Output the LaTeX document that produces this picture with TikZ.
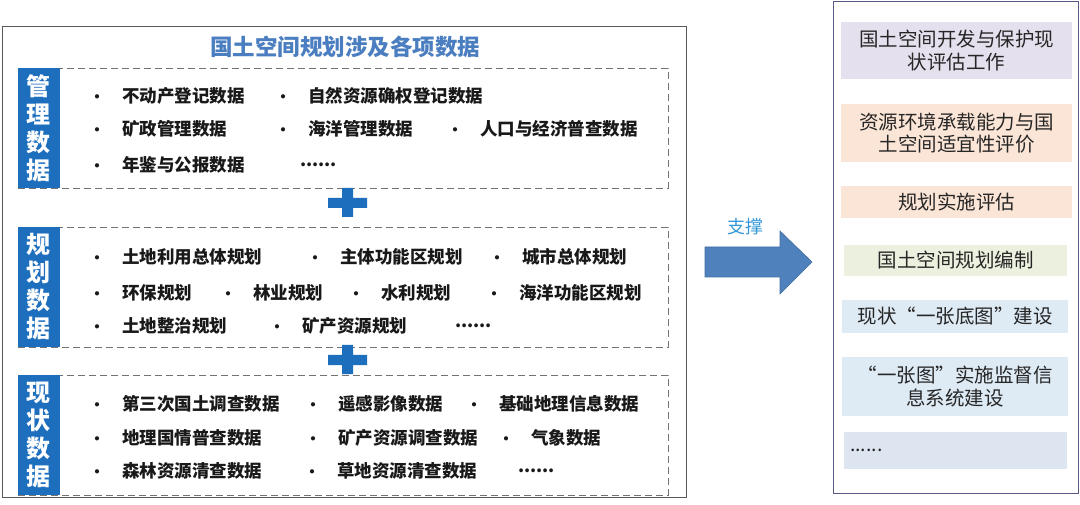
\documentclass[tikz,border=0pt]{standalone}
\usepackage{fontspec}
\newfontfamily\cjk{Noto Sans CJK SC}
\usetikzlibrary{positioning}

\definecolor{tagblue}{RGB}{30,110,190}
\definecolor{titleblue}{RGB}{74,126,192}
\definecolor{arrowblue}{RGB}{79,129,189}
\definecolor{supblue}{RGB}{52,152,215}
\definecolor{lavender}{RGB}{229,224,237}
\definecolor{peach}{RGB}{251,229,214}
\definecolor{paleolive}{RGB}{236,240,222}
\definecolor{paleblue}{RGB}{222,235,245}
\definecolor{palegrey}{RGB}{220,229,240}

\newcommand{\bul}{\makebox[0pt]{\fontsize{15}{15}\selectfont\textbullet}\hspace{25pt}}

\tikzset{frame/.style={draw=black!65,line width=1pt},
  databox/.style={draw=black!55,dashed,dash pattern=on 7pt off 4pt,line width=0.8pt,minimum width=650pt,minimum height=120pt,inner sep=0pt},
  tagbar/.style={fill=tagblue,text=white,minimum width=42pt,minimum height=120pt,inner sep=0pt,align=center,font=\cjk\bfseries\fontsize{24}{28}\selectfont},
  entry/.style={anchor=west,inner sep=0pt,text=black!90,font=\cjk\bfseries\fontsize{17.5}{20}\selectfont},
  task/.style={minimum width=231pt,inner sep=0pt,align=center,text=black!85,font=\cjk\fontsize{19.5}{22.5}\selectfont},
  plusbar/.style={fill=tagblue}}

\begin{document}
\begin{tikzpicture}[x=1pt,y=-1pt]
\useasboundingbox (0,0) rectangle (1080,505);
\fill[white] (0,0) rectangle (1080,505);
% left panel
\draw[frame] (2,27) rectangle (686,497);
\node[text=titleblue,font=\cjk\bfseries\fontsize{22.5}{26}\selectfont] (title) at (345,47) {国土空间规划涉及各项数据};

% management data
\node[databox] (mgmtbox) at (343,128) {};
\node[tagbar] (mgmt) at (39,128) {管\\理\\数\\据};
\node[entry] (m1) at (97,96) {\bul 不动产登记数据};
\node[entry] (m2) at (283,96) {\bul 自然资源确权登记数据};
\node[entry] (m3) at (97,129) {\bul 矿政管理数据};
\node[entry] (m4) at (283,129) {\bul 海洋管理数据};
\node[entry] (m5) at (455,129) {\bul 人口与经济普查数据};
\node[entry] (m6) at (97,165) {\bul 年鉴与公报数据};
\node[entry] (m7) at (300,165) {......};

\fill[plusbar] (328,198) rectangle (367,208) (342,188) rectangle (353,217);

% planning data
\node[databox] (planbox) at (343,287) {};
\node[tagbar] (plan) at (39,287) {规\\划\\数\\据};
\node[entry] (p1) at (97,257) {\bul 土地利用总体规划};
\node[entry] (p2) at (315,257) {\bul 主体功能区规划};
\node[entry] (p3) at (497,257) {\bul 城市总体规划};
\node[entry] (p4) at (97,293) {\bul 环保规划};
\node[entry] (p5) at (228,293) {\bul 林业规划};
\node[entry] (p6) at (356,293) {\bul 水利规划};
\node[entry] (p7) at (494,293) {\bul 海洋功能区规划};
\node[entry] (p8) at (97,326) {\bul 土地整治规划};
\node[entry] (p9) at (277,326) {\bul 矿产资源规划};
\node[entry] (p10) at (455,326) {......};

\fill[plusbar] (328,355) rectangle (367,365) (342,345) rectangle (353,374);

% current status data
\node[databox] (statbox) at (343,435) {};
\node[tagbar] (stat) at (39,435) {现\\状\\数\\据};
\node[entry] (s1) at (97,404) {\bul 第三次国土调查数据};
\node[entry] (s2) at (313,404) {\bul 遥感影像数据};
\node[entry] (s3) at (474,404) {\bul 基础地理信息数据};
\node[entry] (s4) at (97,438) {\bul 地理国情普查数据};
\node[entry] (s5) at (313,438) {\bul 矿产资源调查数据};
\node[entry] (s6) at (506,438) {\bul 气象数据};
\node[entry] (s7) at (97,471) {\bul 森林资源清查数据};
\node[entry] (s8) at (312,471) {\bul 草地资源清查数据};
\node[entry] (s9) at (518,471) {......};

% support arrow
\filldraw[fill=arrowblue,draw=arrowblue!85!black,line width=0.6pt] (705,247) -- (780,247) -- (780,231) -- (812,262) -- (780,294) -- (780,277) -- (705,277) -- cycle;
\node[text=supblue,font=\cjk\fontsize{18}{20}\selectfont] (support) at (745,227) {支撑};

% right panel
\draw[draw=black!40!blue!30!gray,line width=1pt] (833,2) rectangle (1078,493);
\node[task,fill=lavender,minimum height=57pt] (t1) at (956.5,50.5) {国土空间开发与保护现\\状评估工作};
\node[task,fill=peach,minimum height=58pt] (t2) at (956.5,133) {资源环境承载能力与国\\土空间适宜性评价};
\node[task,fill=peach,minimum height=32pt] (t3) at (956.5,202) {规划实施评估};
\node[task,fill=paleolive,minimum width=223pt,minimum height=31pt] (t4) at (955.5,260.5) {国土空间规划编制};
\node[task,fill=paleblue,minimum width=226pt,minimum height=33pt] (t5) at (955,316.5) {现状“一张底图”建设};
\node[task,fill=paleblue,minimum width=226pt,minimum height=59pt] (t6) at (955,386.5) {“一张图”实施监督信\\息系统建设};
\node[task,fill=palegrey,minimum width=223pt,minimum height=37pt,align=left,text width=211pt] (t7) at (955.5,450.5) {......};
\end{tikzpicture}
\end{document}
